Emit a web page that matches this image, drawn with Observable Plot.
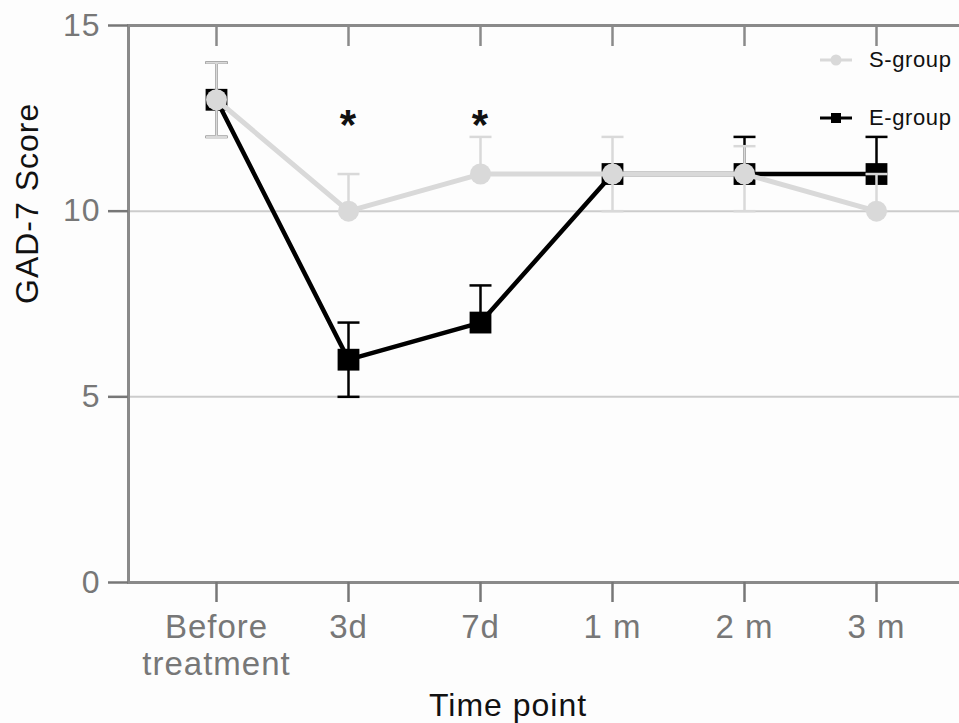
<!DOCTYPE html>
<html><head><meta charset="utf-8">
<script src="https://cdn.jsdelivr.net/npm/d3@7"></script>
<script src="https://cdn.jsdelivr.net/npm/@observablehq/plot@0.6"></script>
<style>
body{margin:0;background:#fdfdfd;font-family:"Liberation Sans",Arial,sans-serif;}
#wrap{position:relative;width:959px;height:723px;overflow:hidden;}
#wrap svg text{letter-spacing:1px;}
.leg{position:absolute;left:820px;display:flex;align-items:center;height:24px;font-size:22px;letter-spacing:0.6px;color:#111;}
.leg svg{margin-right:17px;}
</style></head><body><div id="wrap"></div>
<script>
// ---- data ----
const timepoints = ["Before treatment", "3d", "7d", "1 m", "2 m", "3 m"];
const tickLabels = ["Before\ntreatment", "3d", "7d", "1 m", "2 m", "3 m"];
const groups = ["S-group", "E-group"];
const sMean = [13, 10, 11, 11, 11, 10];
const sLow  = [12, null, null, 10, 10, 10];
const sHigh = [14, 11, 12, 12, 11.75, 11];
const eMean = [13, 6, 7, 11, 11, 11];
const eLow  = [12, 5, null, null, null, null];
const eHigh = [14, 7, 8, null, 12, 12];
const sigTimes = ["3d", "7d"];
const sigY = [12.3, 12.3];
const yTicks = [0, 5, 10, 15];
const xTitle = "Time point";
const yTitle = "GAD-7 Score";

// ---- derived tables ----
const rows = (m, lo, hi) => timepoints.map((t, i) => ({t, m: m[i], lo: lo[i], hi: hi[i]}));
const S = rows(sMean, sLow, sHigh);
const E = rows(eMean, eLow, eHigh);
const bars = R => R.filter(r => r.lo != null || r.hi != null)
  .map(r => ({t: r.t, y1: r.lo ?? r.m, y2: r.hi ?? r.m}));
const caps = R => R.flatMap(r => [r.lo, r.hi].filter(v => v != null).map(v => ({t: r.t, v})));
const sig = sigTimes.map((t, i) => ({t, y: sigY[i]}));

const gray = "#d9d9d9", black = "#000";
const capSymbol = {draw(ctx) { ctx.moveTo(-11, 0); ctx.lineTo(11, 0); }};

const plot = Plot.plot({
  width: 959, height: 723,
  marginLeft: 128, marginRight: 0, marginTop: 25, marginBottom: 141,
  style: {background: "transparent", fontFamily: "'Liberation Sans', Arial, sans-serif", overflow: "visible"},
  x: {type: "point", domain: timepoints, range: [216, 876], padding: 0},
  y: {domain: [0, 15]},
  marks: [
    Plot.gridY([5, 10], {stroke: "#cccccc", strokeOpacity: 1, strokeWidth: 2}),
    Plot.ruleY([0, 15], {stroke: "#8a8a8a", strokeWidth: 3}),
    Plot.frame({anchor: "left", stroke: "#8a8a8a", strokeWidth: 3}),
    Plot.axisY({ticks: yTicks, tickSize: 20, tickPadding: 8, fontSize: 32, color: "#777", strokeWidth: 2.5, label: null}),
    Plot.axisX({anchor: "bottom", tickSize: 20, tickPadding: 9, fontSize: 33, color: "#777", strokeWidth: 2.5,
      lineHeight: 1.12, tickFormat: d => tickLabels[timepoints.indexOf(d)], label: null}),
    Plot.axisX({anchor: "top", tickSize: -20, color: "#8a8a8a", strokeWidth: 2.5, tickFormat: () => "", label: null}),
    Plot.text([xTitle], {frameAnchor: "bottom", dx: -36, dy: 123, lineAnchor: "middle", fontSize: 32, fill: "#111"}),
    Plot.text([yTitle], {frameAnchor: "left", dx: -101, rotate: -90, lineAnchor: "middle", fontSize: 32, fill: "#111"}),
    // E-group
    Plot.ruleX(bars(E), {x: "t", y1: "y1", y2: "y2", stroke: black, strokeWidth: 2.5}),
    Plot.dot(caps(E), {x: "t", y: "v", symbol: capSymbol, stroke: black, fill: "none", strokeWidth: 2.5}),
    Plot.line(E, {x: "t", y: "m", stroke: black, strokeWidth: 4.5}),
    Plot.dot(E, {x: "t", y: "m", symbol: "square", r: 12.3, fill: black}),
    // S-group
    Plot.line(S, {x: "t", y: "m", stroke: gray, strokeWidth: 5}),
    Plot.ruleX(bars(S), {x: "t", y1: "y1", y2: "y2", stroke: gray, strokeWidth: 2.5}),
    Plot.dot(caps(S), {x: "t", y: "v", symbol: capSymbol, stroke: gray, fill: "none", strokeWidth: 2.5}),
    Plot.dot(S, {x: "t", y: "m", r: 10.5, fill: gray}),
    // significance
    Plot.text(sig, {x: "t", y: "y", text: () => "*", fontSize: 42, fontWeight: "bold", fill: "#111", lineAnchor: "middle"})
  ]
});
const wrap = document.getElementById("wrap");
wrap.appendChild(plot);

// legend
const legendDefs = [
  {name: groups[0], top: 48, sym: `<line x1="0" y1="12" x2="32" y2="12" stroke="${gray}" stroke-width="3"/><circle cx="16" cy="12" r="5.5" fill="${gray}"/>`},
  {name: groups[1], top: 106, sym: `<line x1="0" y1="12" x2="32" y2="12" stroke="${black}" stroke-width="3"/><rect x="11" y="7" width="10" height="10" fill="${black}"/>`}
];
for (const d of legendDefs) {
  const div = document.createElement("div");
  div.className = "leg";
  div.style.top = d.top + "px";
  div.innerHTML = `<svg width="32" height="24">${d.sym}</svg><span>${d.name}</span>`;
  wrap.appendChild(div);
}
</script></body></html>
